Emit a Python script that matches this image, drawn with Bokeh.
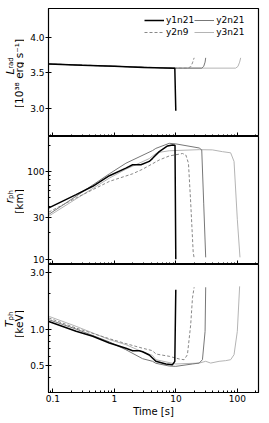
from math import pi
from bokeh.plotting import figure
from bokeh.models import FixedTicker, Legend, LegendItem, Range1d
from bokeh.layouts import column, row
from bokeh.core.properties import value
from bokeh.embed import file_html
from bokeh.resources import INLINE

# ---------------- data ----------------
series = ["y1n21", "y2n9", "y2n21", "y3n21"]

# L_rad [1e38 erg/s]
t_L_y1n21 = [0.086, 0.3, 1.0, 3.0, 9.6, 9.96]
L_y1n21 = [3.625, 3.605, 3.592, 3.576, 3.565, 2.97]
t_L_y2n9 = [0.086, 1.0, 10.0, 15.4, 17.4, 18.6, 19.8]
L_y2n9 = [3.625, 3.592, 3.566, 3.565, 3.585, 3.64, 3.71]
t_L_y2n21 = [0.086, 1.0, 10.0, 26.3, 28.3, 29.8, 30.5]
L_y2n21 = [3.625, 3.592, 3.566, 3.566, 3.59, 3.65, 3.71]
t_L_y3n21 = [0.086, 1.0, 10.0, 93.5, 102.0, 108.6, 113.0]
L_y3n21 = [3.625, 3.592, 3.566, 3.566, 3.59, 3.65, 3.71]

# r_ph [km]
t_r_y1n21 = [0.086, 0.239, 0.445, 0.83, 1.54, 1.98, 2.70, 3.69, 4.18, 5.36, 7.31, 8.81, 9.67, 9.96]
r_y1n21 = [38.5, 54.5, 67.7, 89.4, 109, 119, 119, 130, 141, 168, 195, 200, 199, 10.0]
t_r_y2n9 = [0.086, 0.239, 0.83, 1.98, 2.88, 5.36, 7.79, 12.8, 14.5, 16.0, 17.4, 19.1, 19.8]
r_y2n9 = [34.4, 49.9, 77, 94, 106, 135, 150, 160, 154, 124, 44, 12, 10.3]
t_r_y2n21 = [0.086, 0.239, 0.83, 1.54, 4.18, 4.72, 7.8, 9.96, 23.9, 26.3, 28.3, 30.5]
r_y2n21 = [32.4, 52.2, 94, 124, 173, 183, 209, 206, 185, 176, 43.5, 10.5]
t_r_y3n21 = [0.086, 0.239, 0.83, 1.54, 3.69, 4.72, 5.36, 7.79, 23.9, 39.2, 56.9, 77.6, 88.1, 99.6, 110]
r_y3n21 = [31.0, 48.7, 84, 106, 140, 160, 165, 172, 177, 176, 168, 163, 130, 28.5, 10.5]

# T_ph [keV]
t_T_y1n21 = [0.086, 0.239, 0.445, 0.83, 1.54, 1.98, 2.54, 2.88, 3.69, 4.72, 6.86, 8.81, 9.6, 9.96]
T_y1n21 = [1.17, 0.968, 0.88, 0.775, 0.70, 0.668, 0.668, 0.655, 0.615, 0.545, 0.518, 0.511, 0.545, 2.15]
t_T_y2n9 = [0.086, 0.239, 0.83, 1.54, 2.88, 4.18, 4.72, 7.79, 11.3, 13.6, 15.4, 17.4, 18.6, 19.8]
T_y2n9 = [1.25, 1.03, 0.84, 0.765, 0.70, 0.668, 0.627, 0.60, 0.57, 0.562, 0.619, 1.10, 1.84, 2.25]
t_T_y2n21 = [0.086, 0.239, 0.83, 1.54, 2.88, 4.18, 4.72, 7.79, 9.96, 18.6, 23.9, 27.0, 29.8, 30.5]
T_y2n21 = [1.21, 1.01, 0.79, 0.68, 0.573, 0.545, 0.525, 0.498, 0.495, 0.518, 0.527, 0.562, 0.968, 2.25]
t_T_y3n21 = [0.086, 0.239, 0.83, 1.54, 2.88, 4.18, 4.72, 9.96, 23.9, 30.5, 36.8, 50.3, 64.4, 77.6, 88.1, 99.6, 108.6]
T_y3n21 = [1.29, 1.065, 0.826, 0.75, 0.652, 0.61, 0.562, 0.518, 0.527, 0.545, 0.527, 0.545, 0.552, 0.562, 0.619, 0.968, 2.29]

x_ticks = [0.1, 1, 10, 100]
x_tick_labels = ["0.1", "1", "10", "100"]
x_minor = [0.09] + [0.1 * k for k in range(2, 10)] + [float(k) for k in range(2, 10)] + \
          [10.0 * k for k in range(2, 10)] + [200.0]
L_ticks = [3.0, 3.5, 4.0]
L_tick_labels = ["3.0", "3.5", "4.0"]
r_ticks = [10, 30, 100]
r_tick_labels = ["10", "30", "100"]
r_minor = [20, 40, 50, 60, 70, 80, 90, 200]
T_ticks = [0.5, 1.0, 3.0]
T_tick_labels = ["0.5", "1.0", "3.0"]
T_minor = [0.3, 0.4, 0.6, 0.7, 0.8, 0.9, 2.0]

# y-axis titles: (symbol, subscript, unit)
ylabels = [("L", "rad", "[10³⁸ erg s⁻¹]"), ("r", "ph", "[km]"), ("T", "ph", "[keV]")]

styles = {
    "y1n21": dict(color="black", width=1.5, dash="solid"),
    "y2n9": dict(color="#888888", width=1.0, dash="3 2"),
    "y2n21": dict(color="#777777", width=1.0, dash="solid"),
    "y3n21": dict(color="#b4b4b4", width=1.0, dash="solid"),
}

FONT = "DejaVu Sans"
LAB_W = 24
TOTAL_H = 420


def make_fig(yr, ytype, yticks, ylabs, yminor, top, bottom, show_x):
    p = figure(frame_width=210, frame_height=128, x_axis_type="log", y_axis_type=ytype,
               x_range=Range1d(0.085, 220), y_range=Range1d(*yr),
               output_backend="svg", toolbar_location=None,
               min_border_left=46 - LAB_W, min_border_right=6,
               min_border_top=top, min_border_bottom=bottom)
    p.xgrid.visible = False
    p.ygrid.visible = False
    p.outline_line_color = "black"
    p.outline_line_width = 1.2
    p.background_fill_color = "white"
    p.border_fill_color = "white"
    xa = p.xaxis[0]
    xa.ticker = FixedTicker(ticks=x_ticks, minor_ticks=x_minor)
    xa.major_tick_in = 4
    xa.major_tick_out = 0
    xa.minor_tick_in = 2
    xa.minor_tick_out = 0
    xa.axis_line_color = "black"
    xa.major_tick_line_color = "black"
    xa.minor_tick_line_color = "black"
    xa.major_label_text_font = FONT
    xa.major_label_text_color = "black"
    if show_x:
        xa.major_label_overrides = {t: s for t, s in zip(x_ticks, x_tick_labels)}
        xa.major_label_text_font_size = "9px"
        xa.major_label_standoff = 2
        xa.axis_label = "Time [s]"
        xa.axis_label_text_font = FONT
        xa.axis_label_text_font_size = "10px"
        xa.axis_label_text_font_style = "normal"
        xa.axis_label_text_color = "black"
        xa.axis_label_standoff = 1
    else:
        xa.major_label_overrides = {t: "" for t in x_ticks}
        xa.major_label_text_font_size = "1px"
        xa.major_label_standoff = 0
    ya = p.yaxis[0]
    ya.ticker = FixedTicker(ticks=yticks, minor_ticks=yminor)
    ya.major_label_overrides = {t: s for t, s in zip(yticks, ylabs)}
    ya.major_tick_in = 3
    ya.major_tick_out = 3
    ya.minor_tick_in = 2
    ya.minor_tick_out = 0
    ya.axis_line_color = "black"
    ya.major_tick_line_color = "black"
    ya.minor_tick_line_color = "black"
    ya.major_label_text_font = FONT
    ya.major_label_text_font_size = "9px"
    ya.major_label_text_color = "black"
    ya.major_label_standoff = 1
    return p


def add_lines(p, data):
    rs = {}
    for name in ["y3n21", "y2n21", "y2n9", "y1n21"]:
        t, v = data[name]
        s = styles[name]
        rs[name] = p.line(t, v, line_color=s["color"], line_width=s["width"], line_dash=s["dash"])
    return rs


p1 = make_fig((2.61, 4.40), "linear", L_ticks, L_tick_labels, [], 8, 0, False)
rs1 = add_lines(p1, {"y1n21": (t_L_y1n21, L_y1n21), "y2n9": (t_L_y2n9, L_y2n9),
                     "y2n21": (t_L_y2n21, L_y2n21), "y3n21": (t_L_y3n21, L_y3n21)})

legend = Legend(items=[LegendItem(label=n, renderers=[rs1[n]]) for n in series],
                ncols=2, location=(94, 96), glyph_width=20, glyph_height=12,
                label_height=12, label_standoff=2, spacing=0, padding=2, margin=0,
                label_text_font=FONT, label_text_font_size="9px", label_text_color="black",
                border_line_alpha=0, background_fill_alpha=0)
p1.add_layout(legend)

p2 = make_fig((8.7, 250), "log", r_ticks, r_tick_labels, r_minor, 0, 0, False)
add_lines(p2, {"y1n21": (t_r_y1n21, r_y1n21), "y2n9": (t_r_y2n9, r_y2n9),
               "y2n21": (t_r_y2n21, r_y2n21), "y3n21": (t_r_y3n21, r_y3n21)})

p3 = make_fig((0.30, 3.48), "log", T_ticks, T_tick_labels, T_minor, 0, 24, True)
add_lines(p3, {"y1n21": (t_T_y1n21, T_y1n21), "y2n9": (t_T_y2n9, T_y2n9),
               "y2n21": (t_T_y2n21, T_y2n21), "y3n21": (t_T_y3n21, T_y3n21)})

# side strip carrying the rotated y-axis titles (pixel coordinates of the strip)
lab = figure(width=LAB_W, height=TOTAL_H, x_range=Range1d(0, LAB_W), y_range=Range1d(0, TOTAL_H),
             x_axis_location=None, y_axis_location=None, output_backend="svg",
             toolbar_location=None, min_border=0, outline_line_color=None)
lab.xgrid.visible = False
lab.ygrid.visible = False
sym_pos = [(9.5, 71), (9.0, 200.5), (8.5, 323.5)]
sub_pos = [(10.5, 62.5), (10.5, 194), (10.0, 315.5)]
unit_pos = [(18.5, 73), (18.0, 201), (18.5, 323.5)]
common = dict(angle=pi / 2, text_align="center", text_baseline="middle",
              text_font=value(FONT), text_color="black")
lab.text([x for x, _ in sym_pos], [TOTAL_H - y for _, y in sym_pos], text=[s[0] for s in ylabels],
         text_font_style="italic", text_font_size="11px", **common)
lab.text([x for x, _ in sub_pos], [TOTAL_H - y for _, y in sub_pos], text=[s[1] for s in ylabels],
         text_font_size="7px", **common)
lab.text([x for x, _ in unit_pos], [TOTAL_H - y for _, y in unit_pos], text=[s[2] for s in ylabels],
         text_font_size="10.5px", **common)

layout = row(lab, column(p1, p2, p3, spacing=0), spacing=0)
open("out.html", "w").write(file_html(layout, INLINE))
